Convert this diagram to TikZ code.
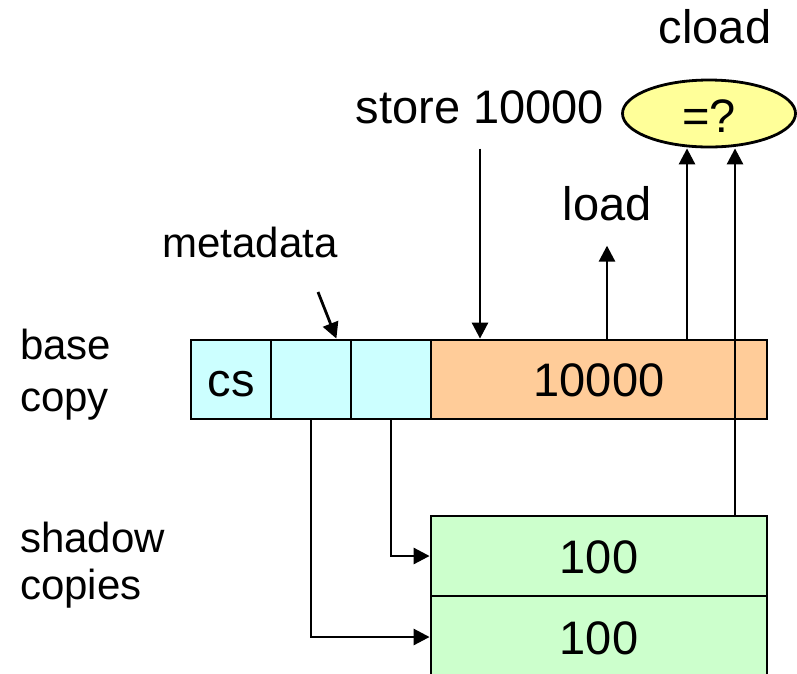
\documentclass[tikz,border=0pt]{standalone}
\usepackage{fontspec}
\setmainfont{Liberation Sans}
\usetikzlibrary{arrows.meta,shapes.geometric,calc}

\definecolor{metacyan}{HTML}{CCFFFF}
\definecolor{dataorange}{HTML}{FFCC99}
\definecolor{shadowgreen}{HTML}{CCFFCC}
\definecolor{cmpyellow}{HTML}{FFFF99}

\begin{document}
\begin{tikzpicture}[x=1pt,y=-1pt,
  big/.style={font=\fontsize{47}{56}\selectfont},
  small/.style={font=\fontsize{42}{50}\selectfont},
  lbl/.style={inner sep=0pt, anchor=base},
  cell/.style={draw, line width=2.8pt, inner sep=0pt, minimum height=79pt,
    text height=34pt, text depth=0pt, big},
  arr/.style={line width=2.8pt, -{Triangle[width=16pt,length=16pt]}}
]
\useasboundingbox (0,0) rectangle (797,673);
\clip (0,0) rectangle (797,673);

% side labels
\node[lbl,small,anchor=base west] (baselbl) at (20,359) {base};
\node[lbl,small,anchor=base west] (copylbl) at (20,411) {copy};
\node[lbl,small,anchor=base west] (shadowlbl) at (20,552) {shadow};
\node[lbl,small,anchor=base west] (copieslbl) at (20,599) {copies};

% top labels
\node[lbl,big] (cloadlbl) at (715,43) {cload};
\node[lbl,big] (store) at (480,123) {store 10000};
\node[lbl,big] (load) at (607,220) {load};
\node[lbl,small] (meta) at (250,257) {metadata};

% comparison
\node[ellipse, draw, fill=cmpyellow, line width=2.8pt, minimum width=173pt,
  minimum height=67pt, inner sep=0pt, big,
  text height=37pt, text depth=0pt] (eq) at (709,113.5) {=?};

% base copy: checksum, metadata, data
\node[cell, fill=metacyan, minimum width=80pt] (c1) at (231,379.5) {cs};
\node[cell, fill=metacyan, minimum width=80pt] (c2) at (311,379.5) {};
\node[cell, fill=metacyan, minimum width=80pt] (c3) at (391,379.5) {};
\node[cell, fill=dataorange, minimum width=336pt] (orange) at (599,379.5) {10000};

% shadow copies
\node[cell, fill=shadowgreen, minimum width=336pt, minimum height=80pt] (sh1) at (599,556) {100};
\node[cell, fill=shadowgreen, minimum width=336pt, minimum height=82pt] (sh2) at (599,637) {100};

% metadata pointers to shadow copies
\draw[arr] (c3.south) |- (sh1.west);
\draw[arr] (c2.south) |- (sh2.west);

% store and load
\draw[arr, shorten <=25pt] (store.south) -- (store.south |- orange.north);
\draw[arr, shorten >=25pt] (load.south |- orange.north) -- (load.south);

% metadata pointer
\coordinate (mdtail) at (318,292);
\draw[arr] (mdtail) -- ($(c2.north east)+(-16,0)$);

% checked load: base value and shadow value compared
\coordinate (cmpA) at (687,340);
\coordinate (cmpB) at (735,516);
\draw[arr] (cmpA) -- (cmpA |- eq.south);
\draw[arr] (cmpB) -- (cmpB |- eq.south);
\end{tikzpicture}
\end{document}
